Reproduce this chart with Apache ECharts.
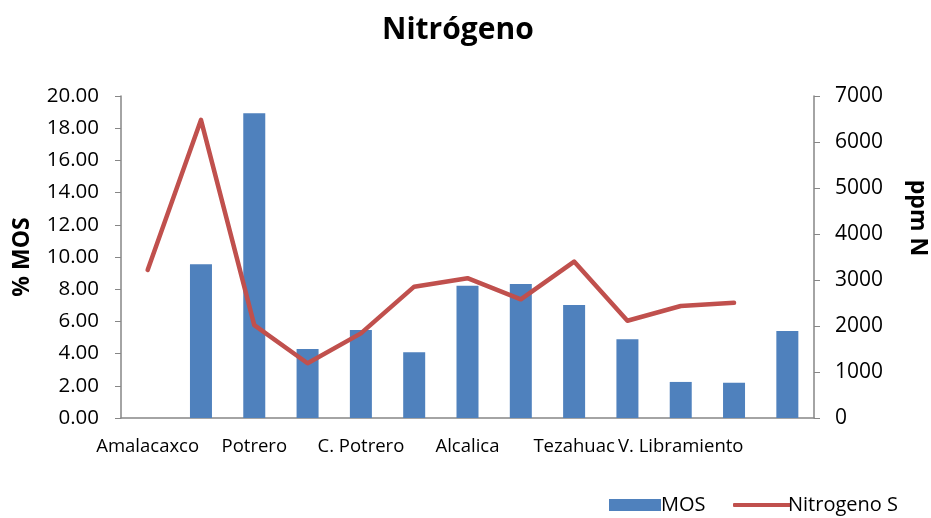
<!DOCTYPE html>
<html><head><meta charset="utf-8">
<script src="https://cdn.jsdelivr.net/npm/echarts@6/dist/echarts.min.js"></script>
<style>html,body{margin:0;padding:0;background:#fff}#c{width:931px;height:518px}</style>
</head><body><div id="c"></div>
<script>
const categories = ["Amalacaxco","Sitio 2","Potrero","Sitio 4","C. Potrero","Sitio 6","Alcalica","Sitio 8","Tezahuac","Sitio 10","V. Libramiento","Sitio 12","Sitio 13"];
const mos = [null, 9.55, 18.93, 4.28, 5.47, 4.08, 8.22, 8.32, 7.02, 4.89, 2.24, 2.19, 5.40];
const nitrogeno = [3220, 6480, 2020, 1190, 1840, 2855, 3040, 2580, 3400, 2115, 2435, 2505, null];
const leftTicks = {min: 0, max: 20, interval: 2};
const rightTicks = {min: 0, max: 7000, interval: 1000};

const FONT = 'Open Sans';
const chart = echarts.init(document.getElementById('c'), null, {renderer: 'canvas'});
const axisColor = '#868686';
chart.setOption({
  animation: false,
  textStyle: {fontFamily: FONT},
  title: {text: 'Nitrógeno', left: 377, top: 10,
    textStyle: {fontFamily: FONT, fontSize: 30, fontWeight: 'bold', color: '#000'}},
  grid: {left: 121, right: 117, top: 96, bottom: 100, containLabel: false, outerBoundsMode: 'none'},
  legend: [{
    left: 604, top: 490, itemWidth: 52, itemHeight: 12,
    textStyle: {fontFamily: FONT, fontSize: 20, color: '#000', padding: [0,0,0,-5]},
    data: [{name: 'MOS', icon: 'rect'}]
  }, {
    left: 728, top: 490, itemWidth: 58, itemHeight: 4,
    textStyle: {fontFamily: FONT, fontSize: 20, color: '#000', padding: [0,0,0,-8]},
    data: [{name: 'Nitrogeno S', icon: 'roundRect'}]
  }],
  xAxis: {
    type: 'category', data: categories,
    axisLine: {lineStyle: {color: axisColor, width: 1.5}},
    axisTick: {show: false},
    axisLabel: {interval: 1, showMaxLabel: false, color: '#000', fontSize: 18.5, fontFamily: FONT, margin: 19}
  },
  yAxis: [{
    type: 'value', min: leftTicks.min, max: leftTicks.max, interval: leftTicks.interval,
    name: '% MOS', nameLocation: 'middle', nameGap: 87, nameRotate: 90,
    nameTextStyle: {fontFamily: FONT, fontSize: 23, fontWeight: 'bold', color: '#000'},
    axisLine: {show: true, lineStyle: {color: axisColor, width: 1.5}},
    axisTick: {show: true, length: 6, lineStyle: {color: axisColor}},
    splitLine: {show: false},
    axisLabel: {color: '#000', fontSize: 20.5, fontFamily: FONT, margin: 22,
      formatter: v => v.toFixed(2)}
  }, {
    type: 'value', min: rightTicks.min, max: rightTicks.max, interval: rightTicks.interval,
    position: 'right',
    name: 'ppm N', nameLocation: 'middle', nameGap: 92, nameRotate: -90,
    nameTextStyle: {fontFamily: FONT, fontSize: 23, fontWeight: 'bold', color: '#000', padding: [0, 78, 0, 0]},
    axisLine: {show: true, lineStyle: {color: axisColor, width: 1.5}},
    axisTick: {show: true, length: 6, lineStyle: {color: axisColor}},
    splitLine: {show: false},
    axisLabel: {color: '#000', fontSize: 21, fontFamily: FONT, margin: 21, formatter: v => String(v)}
  }],
  series: [{
    name: 'MOS', type: 'bar', data: mos, yAxisIndex: 0, barWidth: 22,
    itemStyle: {color: '#4F81BD'}
  }, {
    name: 'Nitrogeno S', type: 'line', data: nitrogeno, yAxisIndex: 1,
    symbol: 'none', connectNulls: false,
    lineStyle: {color: '#C0504D', width: 4.5, cap: 'round', join: 'round'},
    itemStyle: {color: '#C0504D'}
  }]
});
</script></body></html>
